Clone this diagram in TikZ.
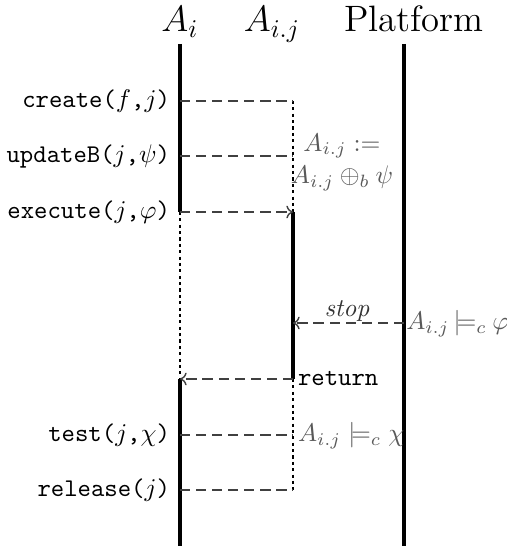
\documentclass[tikz,border=0pt]{standalone}
\usepackage{amsmath,amssymb}
\usetikzlibrary{arrows.meta}
\begin{document}
\begin{tikzpicture}[x=0.3922pt,y=-0.3922pt,
  life/.style={line width=1.6pt},
  idle/.style={line width=0.8pt,dash pattern=on 1.2pt off 1.3pt},
  msg/.style={line width=0.55pt,black!75,dash pattern=on 4pt off 2.3pt},
  tip/.style={-{To[length=2.6pt,width=5pt]}},
  call/.style={anchor=east,inner sep=1pt,font=\ttfamily},
  note/.style={black!65,inner sep=1pt},
  head/.style={anchor=base,font=\Large,inner sep=0pt}]
\useasboundingbox (0,0) rectangle (506,550);
% headers
\node[head] (hAi)  at (180,32) {$A_i$};
\node[head] (hAij) at (272,32) {$A_{i.j}$};
\node[head] (hPf)  at (414,32) {Platform};
% lifeline coordinates
\coordinate (aiTop) at (180,44);
\coordinate (aiC)   at (180,101);
\coordinate (aiU)   at (180,156);
\coordinate (aiE)   at (180,212);
\coordinate (aiR)   at (180,379);
\coordinate (aiT)   at (180,435);
\coordinate (aiL)   at (180,490);
\coordinate (aiBot) at (180,546);
\coordinate (bC) at (293,101);
\coordinate (bU) at (293,156);
\coordinate (bE) at (293,212);
\coordinate (bS) at (293,323);
\coordinate (bR) at (293,379);
\coordinate (bT) at (293,435);
\coordinate (bL) at (293,490);
\coordinate (pfTop) at (404,44);
\coordinate (pfS)   at (404,323);
\coordinate (pfBot) at (404,546);
% lifelines
\draw[life] (aiTop) -- (aiE);
\draw[idle] (aiE) -- (aiR);
\draw[life] (aiR) -- (aiBot);
\draw[idle] (bC) -- (bE);
\draw[life] (bE) -- (bR);
\draw[idle] (bR) -- (bL);
\draw[life] (pfTop) -- (pfBot);
% messages
\draw[msg] (aiC) -- (bC);
\draw[msg] (aiU) -- (bU);
\draw[msg,tip] (aiE) -- (bE);
\draw[msg,tip] (pfS) -- (bS);
\draw[msg,tip] (bR) -- (aiR);
\draw[msg] (aiT) -- (bT);
\draw[msg] (aiL) -- (bL);
% labels
\node[call] (lC) at (173,101) {create($f$,$j$)};
\node[call] (lU) at (173,156) {updateB($j$,$\psi$)};
\node[call] (lE) at (173,212) {execute($j$,$\varphi$)};
\node[call] (lT) at (173,435) {test($j$,$\chi$)};
\node[call] (lL) at (173,490) {release($j$)};
\node[note] (n1) at (342,146) {$A_{i.j} :=$};
\node[note] (n2) at (342,178) {$A_{i.j} \oplus_b \psi$};
\node[inner sep=1pt,black!80] (lS) at (347,311) {\textit{stop}};
\node[note,anchor=west,inner sep=0.3pt] (n3) at (405,324) {$A_{i.j}\mskip-2mu\models_c\mskip-1mu\varphi$};
\node[anchor=west,inner sep=1pt,font=\ttfamily] (lR) at (295,379) {return};
\node[note,anchor=west] (n4) at (295,436) {$A_{i.j} \models_c \chi$};
\end{tikzpicture}
\end{document}
